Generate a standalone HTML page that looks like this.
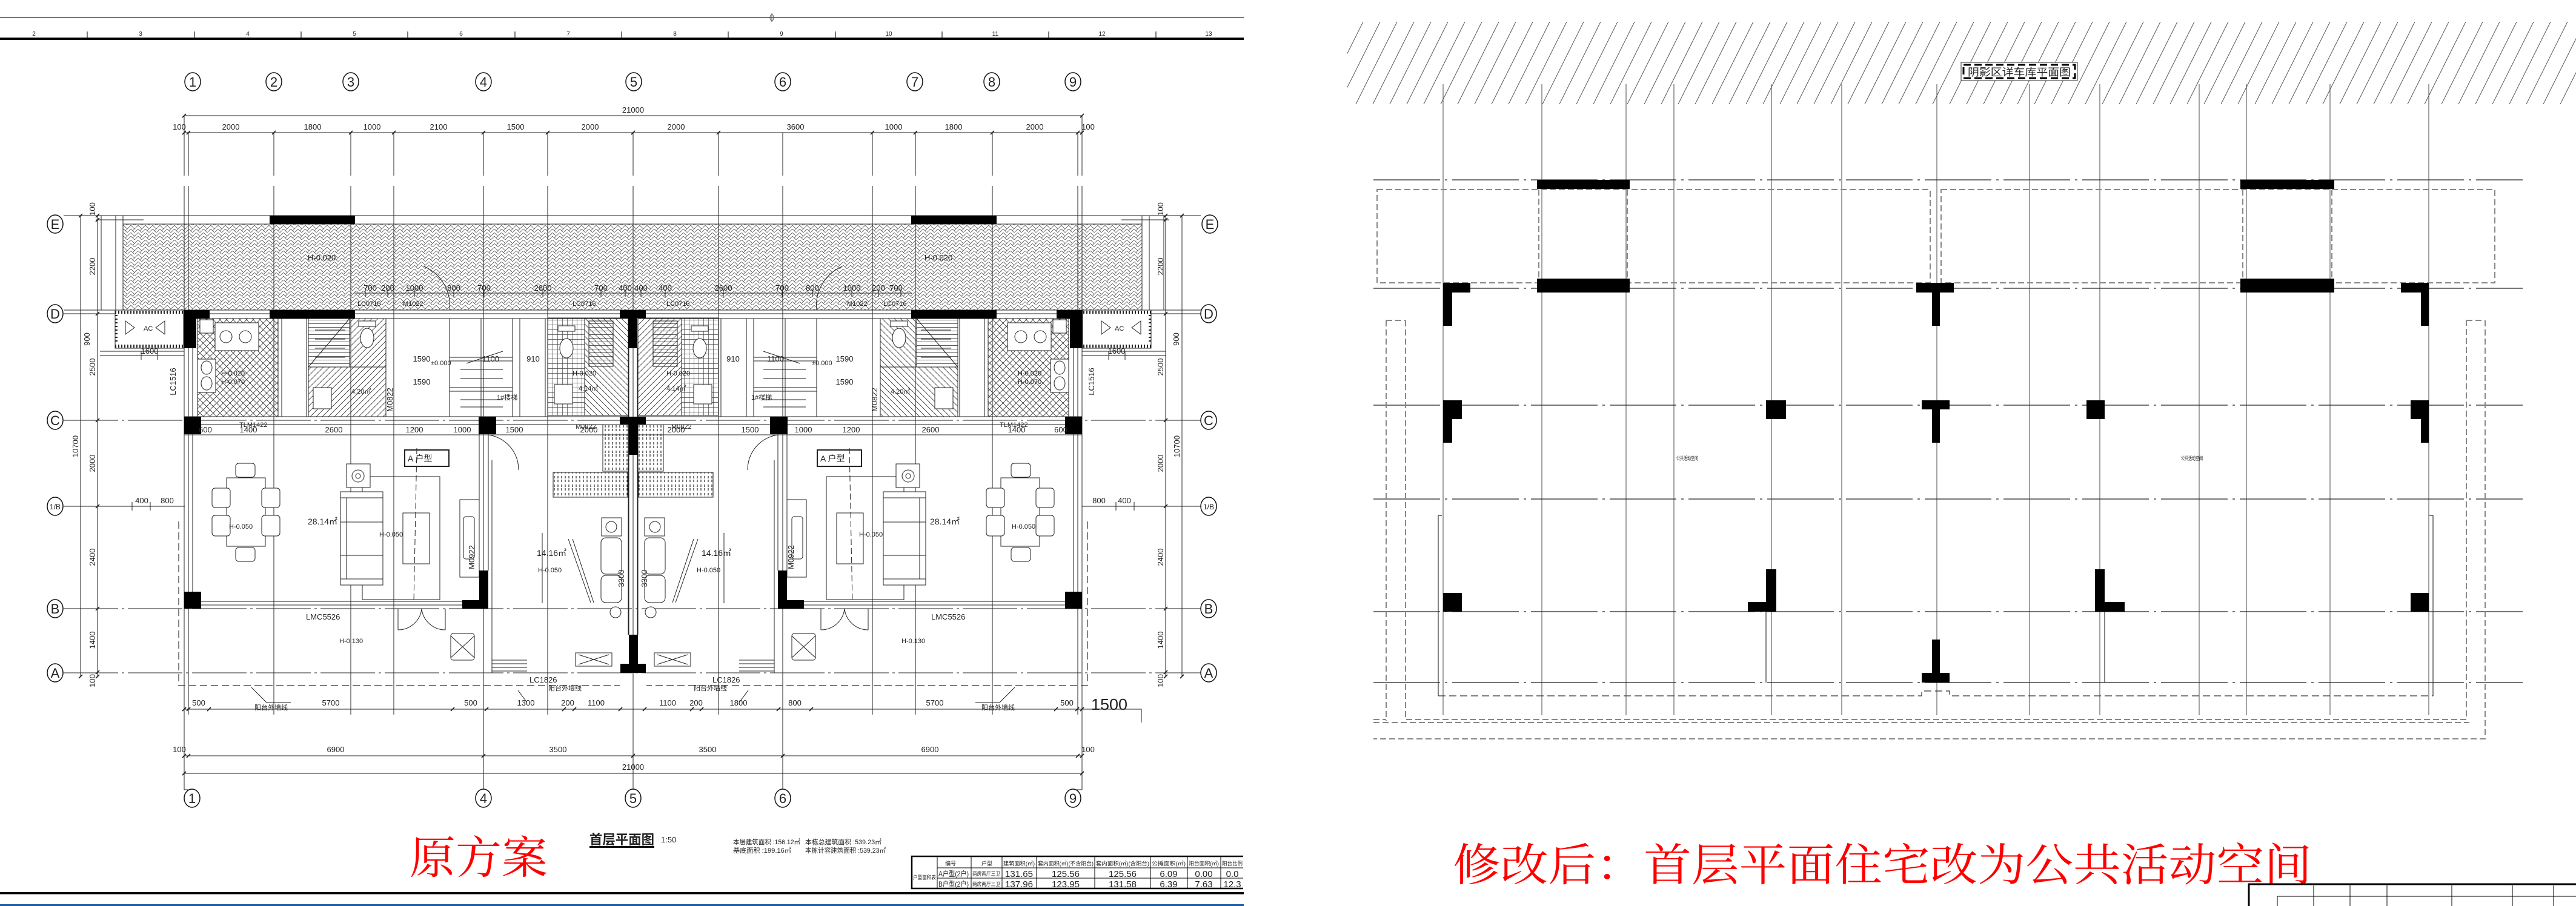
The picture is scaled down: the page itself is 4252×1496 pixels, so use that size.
<!DOCTYPE html>
<html><head><meta charset="utf-8"><title>首层平面图</title>
<style>
html,body{margin:0;padding:0;background:#fff;width:4252px;height:1496px;overflow:hidden}
svg{display:block}
text{font-family:"Liberation Sans","Noto Sans CJK SC",sans-serif;fill:#222}
.rd{font-family:"Liberation Serif","Noto Serif CJK SC",serif;fill:#ff0000}
.cn{font-family:"Liberation Sans","Noto Sans CJK SC",sans-serif}
</style></head><body>
<svg width="4252" height="1496" viewBox="0 0 4252 1496" xmlns="http://www.w3.org/2000/svg">
<defs>
<pattern id="hb" patternUnits="userSpaceOnUse" width="12" height="12">
<path d="M0 0L6 6L12 0M0 6L6 12L12 6M6 6L3 9M12 0L9 3" stroke="#555" stroke-width="0.8" fill="none"/>
</pattern>
<pattern id="xh" patternUnits="userSpaceOnUse" width="11" height="11">
<path d="M0 0L11 11M11 0L0 11" stroke="#333" stroke-width="0.8" fill="none"/>
</pattern>
<pattern id="dg" patternUnits="userSpaceOnUse" width="10" height="10">
<path d="M-1 1L1 -1M0 10L10 0M9 11L11 9" stroke="#333" stroke-width="0.8" fill="none"/>
</pattern>
<pattern id="dg2" patternUnits="userSpaceOnUse" width="10" height="10">
<path d="M-1 9L1 11M0 0L10 10M9 -1L11 1" stroke="#333" stroke-width="0.8" fill="none"/>
</pattern>
<pattern id="tl" patternUnits="userSpaceOnUse" width="8" height="8">
<path d="M0 0.5H8M0.5 0V8" stroke="#444" stroke-width="0.7" fill="none"/>
</pattern>
<pattern id="hl" patternUnits="userSpaceOnUse" width="10" height="6">
<path d="M0 0.5H10" stroke="#333" stroke-width="0.8" fill="none"/>
</pattern>
<pattern id="vd" patternUnits="userSpaceOnUse" width="6" height="14">
<path d="M3 2V6M3 8V12" stroke="#222" stroke-width="1.2" fill="none"/>
</pattern>
<pattern id="rh" patternUnits="userSpaceOnUse" width="28" height="56">
<path d="M0 56L28 0M-28 56L0 0M28 56L56 0" stroke="#555" stroke-width="1" fill="none"/>
</pattern>
</defs>

<!-- ================= TOP FRAME (left) ================= -->
<line x1="0" y1="29" x2="2053" y2="29" stroke="#777" stroke-width="2"/>
<line x1="1274" y1="22" x2="1274" y2="36" stroke="#555" stroke-width="1"/>
<ellipse cx="1274" cy="29" rx="3" ry="5" fill="none" stroke="#555"/>
<rect x="0" y="62" width="2053" height="4" fill="#000"/>
<path d="M144 52V62M321 52V62M497 52V62M673 52V62M850 52V62M1026 52V62M1202 52V62M1379 52V62M1555 52V62M1731 52V62M1908 52V62" stroke="#222" stroke-width="1.2"/>
<g font-size="10" text-anchor="middle">
<text x="56" y="59">2</text><text x="232" y="59">3</text><text x="409" y="59">4</text><text x="585" y="59">5</text><text x="761" y="59">6</text><text x="938" y="59">7</text><text x="1114" y="59">8</text><text x="1290" y="59">9</text><text x="1467" y="59">10</text><text x="1643" y="59">11</text><text x="1819" y="59">12</text><text x="1995" y="59">13</text>
</g>

<!-- ================= LEFT PLAN ================= -->
<rect x="203" y="370" width="1682" height="142" fill="url(#hb)"/>
<g stroke="#222" stroke-width="1" fill="none">
<path d="M105 356H1982M203 370H1885M203 356V512M1885 356V512M167 356V512M191 356V512M1897 356V512M1921 356V512M158 363H237M1851 363H1930"/>
<path d="M105 512H1982M105 518H1982" />
<path d="M105 694H1982M105 1005H1982M105 1111H1982" stroke-dasharray="90 6 4 6"/>
<path d="M105 836H305M1786 836H1982"/>
<path d="M304 191V290M311 219V290M452 219V290M579 219V290M650 219V290M798 219V290M904 219V290M1045 219V290M1186 219V290M1292 219V290M1440 219V290M1511 219V290M1638 219V290M1779 219V290M1786 191V290"/>
<path d="M304 307V1304M311 307V1180M452 307V1180M579 307V1180M650 307V1180M798 307V1304M904 307V1180M1045 307V1304M1186 307V1180M1292 307V1304M1440 307V1180M1511 307V1180M1638 307V1180M1779 307V1180M1786 307V1304"/>
<path d="M304 1304L317 1304M1786 1304L1771 1304"/>
<path d="M304 191H1786M304 219H1786"/>
<path d="M301 194L307 188M1783 194L1789 188M301 222L307 216M308 222L314 216M449 222L455 216M576 222L582 216M647 222L653 216M795 222L801 216M901 222L907 216M1042 222L1048 216M1183 222L1189 216M1437 222L1443 216M1508 222L1514 216M1635 222L1641 216M1776 222L1782 216M1783 222L1789 216" stroke-width="1.6"/>
<path d="M133 356V1117M161 356V1117M1924 356V1117M1951 356V1117"/>
<path d="M158 359L164 353M158 366L164 360M158 521L164 515M158 697L164 691M158 839L164 833M158 1008L164 1002M158 1113L164 1107M158 1120L164 1114M1921 359L1927 353M1921 366L1927 360M1921 521L1927 515M1921 697L1927 691M1921 839L1927 833M1921 1008L1927 1002M1921 1113L1927 1107M1921 1120L1927 1114M130 359L136 353M130 1120L136 1114M1948 359L1954 353M1948 1120L1954 1114" stroke-width="1.6"/>
<path d="M165 836H304M218 829V843M248 829V843M1786 836H1925M1842 829V843M1872 829V843"/>
<path d="M304 1171H1786M304 1248H1786M304 1277H1786"/>
<path d="M301 1174L307 1168M308 1174L314 1168M342 1174L348 1168M744 1174L750 1168M800 1174L806 1168M928 1174L934 1168M945 1174L951 1168M1021 1174L1027 1168M1061 1174L1067 1168M1139 1174L1145 1168M1155 1174L1161 1168M1282 1174L1288 1168M1336 1174L1342 1168M1740 1174L1746 1168M1775 1174L1781 1168M1783 1174L1789 1168" stroke-width="1.6"/>
<path d="M301 1251L307 1245M308 1251L314 1245M795 1251L801 1245M1042 1251L1048 1245M1289 1251L1295 1245M1776 1251L1782 1245M1783 1251L1789 1245M301 1280L307 1274M1783 1280L1789 1274" stroke-width="1.6"/>
<path d="M1786 1171H1884V1193"/>
</g>

<g stroke="#111" stroke-width="1.5" fill="#fff">
<ellipse cx="318" cy="135" rx="13" ry="15"/><ellipse cx="452" cy="135" rx="13" ry="15"/><ellipse cx="579" cy="135" rx="13" ry="15"/><ellipse cx="798" cy="135" rx="13" ry="15"/><ellipse cx="1046" cy="135" rx="13" ry="15"/><ellipse cx="1292" cy="135" rx="13" ry="15"/><ellipse cx="1510" cy="135" rx="13" ry="15"/><ellipse cx="1637" cy="135" rx="13" ry="15"/><ellipse cx="1771" cy="135" rx="13" ry="15"/>
<ellipse cx="317" cy="1318" rx="13" ry="15"/><ellipse cx="798" cy="1318" rx="13" ry="15"/><ellipse cx="1045" cy="1318" rx="13" ry="15"/><ellipse cx="1292" cy="1318" rx="13" ry="15"/><ellipse cx="1771" cy="1318" rx="13" ry="15"/>
<ellipse cx="91" cy="370" rx="13" ry="15"/><ellipse cx="91" cy="518" rx="13" ry="15"/><ellipse cx="91" cy="694" rx="13" ry="15"/><ellipse cx="91" cy="836" rx="13" ry="15"/><ellipse cx="91" cy="1005" rx="13" ry="15"/><ellipse cx="91" cy="1111" rx="13" ry="15"/>
<ellipse cx="1997" cy="370" rx="13" ry="15"/><ellipse cx="1995" cy="518" rx="13" ry="15"/><ellipse cx="1995" cy="694" rx="13" ry="15"/><ellipse cx="1995" cy="836" rx="13" ry="15"/><ellipse cx="1995" cy="1005" rx="13" ry="15"/><ellipse cx="1995" cy="1111" rx="13" ry="15"/>
</g>
<g font-size="22" text-anchor="middle">
<text x="318" y="143">1</text><text x="452" y="143">2</text><text x="579" y="143">3</text><text x="798" y="143">4</text><text x="1046" y="143">5</text><text x="1292" y="143">6</text><text x="1510" y="143">7</text><text x="1637" y="143">8</text><text x="1771" y="143">9</text>
<text x="317" y="1326">1</text><text x="798" y="1326">4</text><text x="1045" y="1326">5</text><text x="1292" y="1326">6</text><text x="1771" y="1326">9</text>
<text x="91" y="378">E</text><text x="91" y="526">D</text><text x="91" y="702">C</text><text x="91" y="1013">B</text><text x="91" y="1119">A</text>
<text x="1997" y="378">E</text><text x="1995" y="526">D</text><text x="1995" y="702">C</text><text x="1995" y="1013">B</text><text x="1995" y="1119">A</text>
</g>
<g font-size="12" text-anchor="middle"><text x="91" y="841">1/B</text><text x="1995" y="841">1/B</text></g>

<g id="LH">
<g fill="#fff" stroke="#222" stroke-width="1">
<rect x="190" y="512" width="113" height="63"/>
<rect x="326" y="526" width="133" height="162" fill="url(#xh)"/>
<rect x="509" y="526" width="68" height="80" fill="url(#hl)"/>
<rect x="509" y="606" width="128" height="82" fill="url(#dg)"/>
<rect x="577" y="526" width="60" height="80" fill="url(#dg)"/>
<rect x="742" y="526" width="104" height="162" fill="none"/>
<rect x="904" y="525" width="61" height="161" fill="url(#tl)"/>
<rect x="965" y="525" width="72" height="161" fill="url(#dg2)"/>
<rect x="972" y="530" width="40" height="75" fill="url(#hl)"/>
<rect x="355" y="533" width="72" height="46"/>
<circle cx="373" cy="556" r="10"/><circle cx="405" cy="556" r="10"/>
<rect x="326" y="593" width="30" height="55"/>
<ellipse cx="341" cy="607" rx="9" ry="11"/><ellipse cx="341" cy="633" rx="9" ry="11"/>
<rect x="330" y="528" width="22" height="22"/>
<rect x="592" y="530" width="28" height="9"/>
<ellipse cx="606" cy="558" rx="11" ry="16"/>
<rect x="517" y="640" width="30" height="35"/>
<rect x="921" y="538" width="28" height="9"/>
<ellipse cx="935" cy="575" rx="11" ry="16"/>
<rect x="915" y="635" width="30" height="32"/>
<rect x="995" y="701" width="42" height="77" fill="url(#vd)"/>
<rect x="913" y="780" width="123" height="41" fill="url(#vd)"/>
<rect x="993" y="855" width="33" height="30"/>
<circle cx="1009" cy="870" r="9"/>
<rect x="992" y="888" width="34" height="60" rx="8"/>
<rect x="992" y="950" width="34" height="45" rx="8"/>
<circle cx="1016" cy="1011" r="9"/>
<rect x="374" y="789" width="64" height="113" fill="none"/>
<rect x="389" y="765" width="32" height="23" rx="5"/><rect x="389" y="904" width="32" height="23" rx="5"/>
<rect x="350" y="806" width="30" height="32" rx="5"/><rect x="350" y="851" width="30" height="34" rx="5"/>
<rect x="432" y="806" width="30" height="32" rx="5"/><rect x="432" y="851" width="30" height="34" rx="5"/>
<rect x="598" y="787" width="128" height="203" fill="none"/>
<rect x="572" y="766" width="39" height="39"/><circle cx="591" cy="786" r="10"/><circle cx="591" cy="786" r="4"/>
<rect x="562" y="812" width="70" height="154"/>
<path d="M572 822V956M562 862H632M562 917H632M562 822H632M562 956H632" fill="none"/>
<rect x="665" y="847" width="44" height="84"/>
<rect x="759" y="825" width="32" height="128"/>
<rect x="765" y="853" width="18" height="70" rx="4"/>
<rect x="668" y="743" width="73" height="27" stroke-width="2"/>
<rect x="744" y="1046" width="39" height="44" rx="4"/>
<rect x="950" y="1078" width="60" height="22"/>
</g>
<g fill="none" stroke="#222" stroke-width="1">
<path d="M190 515.5H303M190 571.5H303" stroke-width="5" stroke-dasharray="2 3"/>
<path d="M192 520V568" stroke-width="4" stroke-dasharray="2 4"/>
<path d="M207 530L222 541L207 552ZM272 530L257 541L272 552Z"/>
<path d="M304 526H1037M304 575V977M318 575V977M304 688H1037M304 701H1037M304 718H1045"/>
<path d="M332 993H763M332 999H763"/>
<path d="M459 526V688M465 526V688M506 526V688M509 526V688M637 526V688M650 526V688M846 526V688M858 526V688M900 526V688M904 526V688"/>
<path d="M742 590H846M742 596H846M742 640H846M742 646H846M760 610H830M760 625H830M760 660H830M760 672H830M794 526V688M770 600L830 580"/>
<path d="M509 606L577 526M520 545H570M520 560H570M520 575H570M520 590H570"/>
<path d="M791 717V942M806 717V942M812 760V1111M904 778V1111M895 880V996M1037 575V1048M1052 575V1048"/>
<path d="M806 718A58 58 0 0 1 856 776M806 718V776"/>
<path d="M657 1005V1040M735 1005V1040M657 1040A39 39 0 0 0 696 1005M735 1040A39 39 0 0 1 696 1005"/>
<path d="M812 1090H870M812 1096H870M812 1102H870M812 1108H870"/>
<path d="M744 1050L783 1086M783 1050L744 1086M955 1081L1005 1097M1005 1081L955 1097"/>
<path d="M938 890L975 995M945 890L980 995"/>
<path d="M585 484H1045M603 478V490M640 478V490M684 478V490M749 478V490M799 478V490M896 478V490M992 478V490M1032 478V490"/>
<path d="M688 740L683 995" stroke-dasharray="10 5"/>
<path d="M165 580H304M165 587H304M233 580V594M260 580V594"/>
<path d="M415 1135L440 1160H480M855 1140L870 1160"/>
<path d="M700 440A70 70 0 0 1 742 512"/>
</g>
<g fill="#000" stroke="none">
<rect x="304" y="512" width="42" height="14"/><rect x="304" y="512" width="20" height="63"/>
<rect x="445" y="512" width="141" height="14"/>
<rect x="445" y="356" width="141" height="14"/>
<rect x="304" y="688" width="28" height="29"/>
<rect x="790" y="688" width="29" height="29"/>
<rect x="304" y="977" width="28" height="28"/>
<rect x="791" y="942" width="15" height="63"/><rect x="763" y="991" width="43" height="14"/>
</g>
<path d="M295 861V1132H1023" fill="none" stroke="#333" stroke-width="1.2" stroke-dasharray="12 6"/>
</g>
<use href="#LH" transform="matrix(-1 0 0 1 2090 0)"/>

<g fill="#000">
<rect x="1023" y="512" width="43" height="13"/><rect x="1037" y="512" width="15" height="63"/>
<rect x="1023" y="688" width="43" height="13"/><rect x="1038" y="688" width="15" height="63"/>
<rect x="1038" y="1048" width="15" height="63"/><rect x="1024" y="1096" width="42" height="15"/>
</g>

<g font-size="13" text-anchor="middle">
<text x="1045" y="186">21000</text>
<text x="296" y="214">100</text><text x="381" y="214">2000</text><text x="516" y="214">1800</text><text x="614" y="214">1000</text><text x="724" y="214">2100</text><text x="851" y="214">1500</text><text x="974" y="214">2000</text><text x="1116" y="214">2000</text><text x="1313" y="214">3600</text><text x="1475" y="214">1000</text><text x="1574" y="214">1800</text><text x="1708" y="214">2000</text><text x="1796" y="214">100</text>
<text x="328" y="1165">500</text><text x="546" y="1165">5700</text><text x="777" y="1165">500</text><text x="868" y="1165">1300</text><text x="937" y="1165">200</text><text x="984" y="1165">1100</text><text x="1102" y="1165">1100</text><text x="1149" y="1165">200</text><text x="1219" y="1165">1800</text><text x="1312" y="1165">800</text><text x="1543" y="1165">5700</text><text x="1761" y="1165">500</text>
<text x="296" y="1242">100</text><text x="554" y="1242">6900</text><text x="921" y="1242">3500</text><text x="1168" y="1242">3500</text><text x="1535" y="1242">6900</text><text x="1796" y="1242">100</text>
<text x="1045" y="1271">21000</text>
<text x="339" y="714">600</text><text x="410" y="714">1400</text><text x="551" y="714">2600</text><text x="684" y="714">1200</text><text x="763" y="714">1000</text><text x="849" y="714">1500</text><text x="972" y="714">2000</text>
<text x="1116" y="714">2000</text><text x="1238" y="714">1500</text><text x="1326" y="714">1000</text><text x="1405" y="714">1200</text><text x="1536" y="714">2600</text><text x="1678" y="714">1400</text><text x="1751" y="714">600</text>
<text x="611" y="480">700</text><text x="640" y="480">200</text><text x="684" y="480">1000</text><text x="749" y="480">800</text><text x="799" y="480">700</text><text x="896" y="480">2600</text><text x="992" y="480">700</text><text x="1032" y="480">400</text><text x="1058" y="480">400</text>
<text x="1098" y="480">400</text><text x="1194" y="480">2600</text><text x="1291" y="480">700</text><text x="1341" y="480">800</text><text x="1406" y="480">1000</text><text x="1450" y="480">200</text><text x="1479" y="480">700</text>
<text x="234" y="831">400</text><text x="276" y="831">800</text><text x="1856" y="831">400</text><text x="1814" y="831">800</text>
<text x="247" y="584">1600</text><text x="1843" y="584">1600</text>
<text x="696" y="597">1590</text><text x="696" y="635">1590</text><text x="1394" y="597">1590</text><text x="1394" y="635">1590</text>
<text x="810" y="597">1100</text><text x="1280" y="597">1100</text>
<text x="880" y="597">910</text><text x="1210" y="597">910</text>
</g>
<g font-size="13" text-anchor="middle">
<text transform="translate(157,345) rotate(-90)">100</text>
<text transform="translate(157,440) rotate(-90)">2200</text>
<text transform="translate(157,606) rotate(-90)">2500</text>
<text transform="translate(157,765) rotate(-90)">2000</text>
<text transform="translate(157,920) rotate(-90)">2400</text>
<text transform="translate(157,1057) rotate(-90)">1400</text>
<text transform="translate(157,1124) rotate(-90)">100</text>
<text transform="translate(129,737) rotate(-90)">10700</text>
<text transform="translate(1920,345) rotate(-90)">100</text>
<text transform="translate(1920,440) rotate(-90)">2200</text>
<text transform="translate(1920,606) rotate(-90)">2500</text>
<text transform="translate(1920,765) rotate(-90)">2000</text>
<text transform="translate(1920,920) rotate(-90)">2400</text>
<text transform="translate(1920,1057) rotate(-90)">1400</text>
<text transform="translate(1920,1124) rotate(-90)">100</text>
<text transform="translate(1947,737) rotate(-90)">10700</text>
<text transform="translate(783,920) rotate(-90)">M0922</text>
<text transform="translate(1310,920) rotate(-90)">M0922</text>
<text transform="translate(290,630) rotate(-90)">LC1516</text>
<text transform="translate(1806,630) rotate(-90)">LC1516</text>
<text transform="translate(648,660) rotate(-90)">M0822</text>
<text transform="translate(1448,660) rotate(-90)">M0822</text>
<text transform="translate(1030,955) rotate(-90)">3300</text>
<text transform="translate(1068,955) rotate(-90)">3300</text>
<text transform="translate(148,560) rotate(-90)">900</text>
<text transform="translate(1946,560) rotate(-90)">900</text>
</g>
<g font-size="11" class="cn">
<text x="237" y="546">AC</text><text x="1840" y="546">AC</text>
<text x="673" y="762" font-size="14">A 户型</text><text x="1354" y="762" font-size="14">A 户型</text>
<text x="508" y="866" font-size="14">28.14㎡</text><text x="1535" y="866" font-size="14">28.14㎡</text>
<text x="886" y="918" font-size="14">14.16㎡</text><text x="1158" y="918" font-size="14">14.16㎡</text>
<text x="378" y="873">H-0.050</text><text x="1670" y="873">H-0.050</text>
<text x="626" y="886">H-0.050</text><text x="1418" y="886">H-0.050</text>
<text x="888" y="945">H-0.050</text><text x="1150" y="945">H-0.050</text>
<text x="560" y="1062">H-0.130</text><text x="1488" y="1062">H-0.130</text>
<text x="505" y="1023" font-size="13">LMC5526</text><text x="1537" y="1023" font-size="13">LMC5526</text>
<text x="874" y="1127" font-size="13">LC1826</text><text x="1176" y="1127" font-size="13">LC1826</text>
<text x="508" y="430" font-size="13">H-0.020</text><text x="1526" y="430" font-size="13">H-0.020</text>
<text x="365" y="620">H-0.020</text><text x="1680" y="620">H-0.020</text>
<text x="365" y="634">H-0.070</text><text x="1680" y="634">H-0.070</text>
<text x="580" y="650">4.20㎡</text><text x="1470" y="650">4.20㎡</text>
<text x="955" y="645">4.14㎡</text><text x="1100" y="645">4.14㎡</text>
<text x="945" y="620">H-0.020</text><text x="1100" y="620">H-0.020</text>
<text x="711" y="603">±0.000</text><text x="1340" y="603">±0.000</text>
<text x="820" y="660">1#楼梯</text><text x="1240" y="660">1#楼梯</text>
<text x="590" y="505">LC0716</text><text x="1458" y="505">LC0716</text>
<text x="665" y="505">M1022</text><text x="1398" y="505">M1022</text>
<text x="945" y="505">LC0716</text><text x="1100" y="505">LC0716</text>
<text x="950" y="708">M0822</text><text x="1108" y="708">M0822</text>
<text x="395" y="705">TLM1422</text><text x="1650" y="705">TLM1422</text>
<text x="905" y="1140">阳台外墙线</text><text x="1145" y="1140">阳台外墙线</text>
<text x="420" y="1172">阳台外墙线</text><text x="1620" y="1172">阳台外墙线</text>
</g>
<text x="1801" y="1172" font-size="26" textLength="60" lengthAdjust="spacingAndGlyphs">1500</text>

<text x="973" y="1394" font-size="22" font-weight="bold" textLength="107" lengthAdjust="spacingAndGlyphs">首层平面图</text>
<rect x="973" y="1397" width="107" height="3" fill="#111"/>
<text x="1091" y="1391" font-size="13">1:50</text>
<g font-size="11">
<text x="1210" y="1394" textLength="111" lengthAdjust="spacingAndGlyphs">本层建筑面积 :156.12㎡</text>
<text x="1329" y="1394" textLength="126" lengthAdjust="spacingAndGlyphs">本栋总建筑面积 :539.23㎡</text>
<text x="1210" y="1408" textLength="96" lengthAdjust="spacingAndGlyphs">基底面积 :199.16㎡</text>
<text x="1329" y="1408" textLength="133" lengthAdjust="spacingAndGlyphs">本栋计容建筑面积 :539.23㎡</text>
</g>
<g fill="none" stroke="#000">
<path d="M2052 1414H1505V1467H2052" stroke-width="2.5"/>
<path d="M1547 1433H2052M1547 1450H2052M1547 1414V1467M1603 1414V1467M1654 1414V1467M1711 1414V1467M1807 1414V1467M1899 1414V1467M1960 1414V1467M2015 1414V1467" stroke-width="1"/>
</g>
<g font-size="9">
<text x="1507" y="1452" textLength="38" lengthAdjust="spacingAndGlyphs">户型面积表</text>
<text x="1560" y="1429">编号</text><text x="1620" y="1429">户型</text>
<text x="1656" y="1429" textLength="52" lengthAdjust="spacingAndGlyphs">建筑面积(㎡)</text>
<text x="1713" y="1429" textLength="92" lengthAdjust="spacingAndGlyphs">套内面积(㎡)(不含阳台)</text>
<text x="1809" y="1429" textLength="88" lengthAdjust="spacingAndGlyphs">套内面积(㎡)(含阳台)</text>
<text x="1901" y="1429" textLength="56" lengthAdjust="spacingAndGlyphs">公摊面积(㎡)</text>
<text x="1962" y="1429" textLength="50" lengthAdjust="spacingAndGlyphs">阳台面积(㎡)</text>
<text x="2017" y="1429" textLength="34" lengthAdjust="spacingAndGlyphs">阳台比例</text>
<text x="1605" y="1446" textLength="46" lengthAdjust="spacingAndGlyphs">两房两厅三卫</text>
<text x="1605" y="1463" textLength="46" lengthAdjust="spacingAndGlyphs">两房两厅三卫</text>
<text x="1549" y="1447" font-size="12" textLength="50" lengthAdjust="spacingAndGlyphs">A户型(2户)</text>
<text x="1549" y="1464" font-size="12" textLength="50" lengthAdjust="spacingAndGlyphs">B户型(2户)</text>
</g>
<g font-size="15" text-anchor="middle">
<text x="1682" y="1448">131.65</text><text x="1759" y="1448">125.56</text><text x="1853" y="1448">125.56</text><text x="1929" y="1448">6.09</text><text x="1987" y="1448">0.00</text><text x="2034" y="1448">0.0</text>
<text x="1682" y="1465">137.96</text><text x="1759" y="1465">123.95</text><text x="1853" y="1465">131.58</text><text x="1929" y="1465">6.39</text><text x="1987" y="1465">7.63</text><text x="2034" y="1465">12.3</text>
</g>
<rect x="0" y="1473" width="2053" height="3" fill="#000"/>
<rect x="0" y="1476" width="2053" height="2" fill="#bbb"/>
<rect x="0" y="1493" width="2053" height="3" fill="#1f5fa0"/>

<text class="rd" x="676" y="1442" font-size="74" textLength="228" lengthAdjust="spacingAndGlyphs">原方案</text>

<!-- ================= RIGHT PLAN ================= -->
<rect x="2224" y="36" width="2028" height="136" fill="url(#rh)"/>
<rect x="3237" y="103" width="192" height="30" fill="#fff" stroke="#333" stroke-width="1"/>
<rect x="3241" y="107" width="184" height="22" fill="#fff" stroke="#000" stroke-width="3" stroke-dasharray="12 6"/>
<text x="3248" y="125" font-size="17" textLength="170" lengthAdjust="spacingAndGlyphs">阴影区详车库平面图</text>

<g stroke="#444" stroke-width="1" fill="none">
<path d="M2382 139V1181M2545 139V1181M2684 139V1181M2763 139V1181M2924 139V1181M3040 139V1181M3197 139V1181M3350 139V1181M3466 139V1181M3630 139V1181M3708 139V1181M3846 139V1181M4009 139V1181"/>
</g>
<g stroke="#222" stroke-width="1.2" fill="none" stroke-dasharray="110 8 4 8">
<path d="M2267 297H4164M2267 476H4164M2267 669H4164M2267 824H4164M2267 1010H4164M2267 1127H4164"/>
</g>
<g stroke="#888" stroke-width="2" fill="none" stroke-dasharray="10 5">
<rect x="2273" y="313" width="913" height="154"/>
<rect x="3204" y="313" width="914" height="154"/>
<path d="M2540 313V460M2686 313V460M3702 313V460M3849 313V460"/>
<path d="M2288 529V1190M2320 529V1188H4071V529M4102 529V1220H2267M2267 1188H2288M2267 1193H4076V1193"/>
<path d="M2288 529H2320M4071 529H4102"/>
</g>
<g stroke="#333" stroke-width="1.2" fill="none">
<path d="M2374 851V1149M4016 851V1149M2374 851H2380M4010 851H4016"/>
<path d="M2374 1149H3172V1141H3218V1149H4016" stroke-dasharray="12 6"/>
<path d="M2915 1010V1127M3474 1010V1127"/>
</g>
<g fill="#000">
<rect x="2537" y="297" width="153" height="15"/><rect x="3698" y="297" width="155" height="15"/>
<rect x="2537" y="460" width="153" height="23"/><rect x="3698" y="460" width="155" height="23"/>
<rect x="2382" y="467" width="45" height="16"/><rect x="2382" y="467" width="15" height="71"/>
<rect x="3163" y="467" width="62" height="16"/><rect x="3189" y="483" width="13" height="55"/>
<rect x="3963" y="467" width="46" height="16"/><rect x="3996" y="467" width="13" height="71"/>
<rect x="2382" y="661" width="31" height="31"/><rect x="2382" y="661" width="15" height="70"/>
<rect x="2915" y="661" width="33" height="31"/>
<rect x="3172" y="661" width="46" height="15"/><rect x="3189" y="676" width="13" height="55"/>
<rect x="3444" y="661" width="30" height="31"/>
<rect x="3979" y="661" width="30" height="31"/><rect x="3996" y="661" width="13" height="70"/>
<rect x="2382" y="979" width="31" height="31"/>
<rect x="2915" y="940" width="17" height="70"/><rect x="2885" y="994" width="47" height="16"/>
<rect x="3458" y="940" width="16" height="70"/><rect x="3458" y="994" width="49" height="16"/>
<rect x="3979" y="979" width="30" height="31"/>
<rect x="3189" y="1056" width="13" height="55"/><rect x="3172" y="1111" width="46" height="16"/>
</g>
<text x="2767" y="760" font-size="9" textLength="36" lengthAdjust="spacingAndGlyphs">公共活动空间</text>
<text x="3600" y="760" font-size="9" textLength="36" lengthAdjust="spacingAndGlyphs">公共活动空间</text>

<text class="rd" x="2398" y="1454" font-size="74" textLength="1418" lengthAdjust="spacingAndGlyphs">修改后：首层平面住宅改为公共活动空间</text>

<g stroke="#000" fill="none">
<path d="M3712 1496V1460H4252" stroke-width="3"/>
<path d="M3759 1480H4252M3759 1480V1496M3819 1462V1496M3879 1462V1496M3940 1462V1496M4047 1462V1496M4147 1462V1496M4215 1462V1496" stroke-width="1"/>
</g>
</svg>
</body></html>
